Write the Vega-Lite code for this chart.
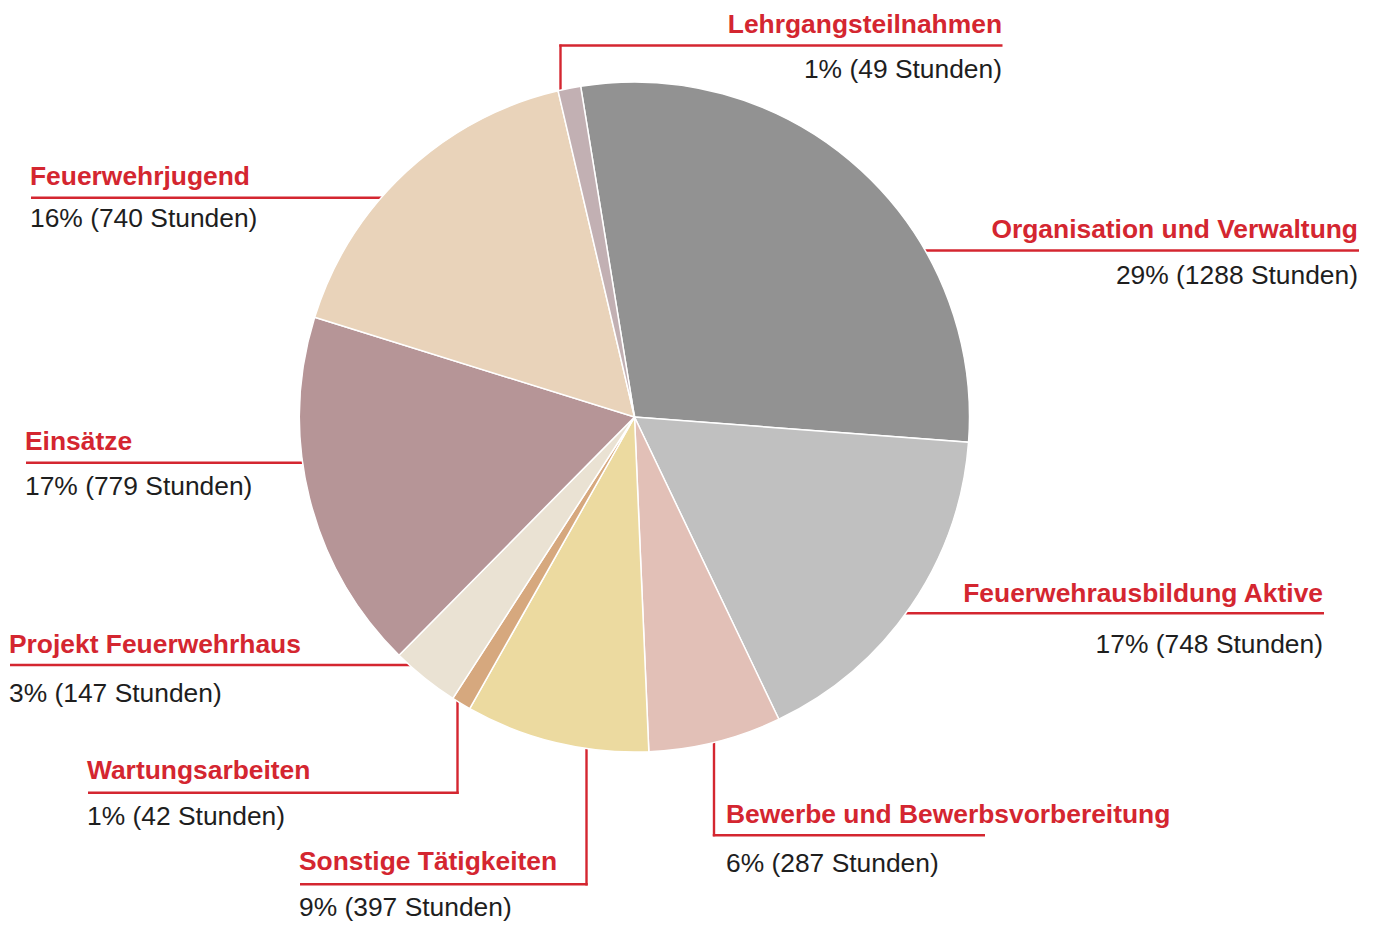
{
  "$schema": "https://vega.github.io/schema/vega-lite/v6.json",
  "width": 1378,
  "height": 925,
  "padding": 0,
  "autosize": {"type": "none"},
  "background": "white",
  "config": {"view": {"stroke": null}},
  "datasets": {
    "slices": [
      {"cat": "Organisation und Verwaltung", "hours": 1288, "pct": 29, "idx": 1},
      {"cat": "Feuerwehrausbildung Aktive", "hours": 748, "pct": 17, "idx": 2},
      {"cat": "Bewerbe und Bewerbsvorbereitung", "hours": 287, "pct": 6, "idx": 3},
      {"cat": "Sonstige Tätigkeiten", "hours": 397, "pct": 9, "idx": 4},
      {"cat": "Wartungsarbeiten", "hours": 42, "pct": 1, "idx": 5},
      {"cat": "Projekt Feuerwehrhaus", "hours": 147, "pct": 3, "idx": 6},
      {"cat": "Einsätze", "hours": 779, "pct": 17, "idx": 7},
      {"cat": "Feuerwehrjugend", "hours": 740, "pct": 16, "idx": 8},
      {"cat": "Lehrgangsteilnahmen", "hours": 49, "pct": 1, "idx": 9}
    ],
    "callouts": [
      {"cat": "Lehrgangsteilnahmen", "side": "right", "lx": 1002, "ly": 33, "sy": 78},
      {"cat": "Organisation und Verwaltung", "side": "right", "lx": 1358, "ly": 238, "sy": 284},
      {"cat": "Feuerwehrausbildung Aktive", "side": "right", "lx": 1323, "ly": 601.5, "sy": 653},
      {"cat": "Bewerbe und Bewerbsvorbereitung", "side": "left", "lx": 726, "ly": 823, "sy": 872},
      {"cat": "Sonstige Tätigkeiten", "side": "left", "lx": 299, "ly": 870, "sy": 916},
      {"cat": "Wartungsarbeiten", "side": "left", "lx": 87, "ly": 779, "sy": 825},
      {"cat": "Projekt Feuerwehrhaus", "side": "left", "lx": 9, "ly": 653, "sy": 702},
      {"cat": "Einsätze", "side": "left", "lx": 25, "ly": 450, "sy": 495},
      {"cat": "Feuerwehrjugend", "side": "left", "lx": 30, "ly": 185, "sy": 227}
    ],
    "leaders": [
      {"cat": "Lehrgangsteilnahmen", "ax": 560.5, "ay": 100, "bx": 560.5, "by": 44.5},
      {"cat": "Lehrgangsteilnahmen", "ax": 559.3, "ay": 45.5, "bx": 1002.5, "by": 45.5},
      {"cat": "Organisation und Verwaltung", "ax": 915, "ay": 250.5, "bx": 1359, "by": 250.5},
      {"cat": "Feuerwehrausbildung Aktive", "ax": 898, "ay": 613.3, "bx": 1324, "by": 613.3},
      {"cat": "Bewerbe und Bewerbsvorbereitung", "ax": 714, "ay": 735, "bx": 714, "by": 836.3},
      {"cat": "Bewerbe und Bewerbsvorbereitung", "ax": 712.8, "ay": 835.2, "bx": 985, "by": 835.2},
      {"cat": "Sonstige Tätigkeiten", "ax": 586.5, "ay": 742, "bx": 586.5, "by": 885.5},
      {"cat": "Sonstige Tätigkeiten", "ax": 300, "ay": 884.3, "bx": 587.7, "by": 884.3},
      {"cat": "Wartungsarbeiten", "ax": 457.5, "ay": 694, "bx": 457.5, "by": 793.9},
      {"cat": "Wartungsarbeiten", "ax": 88, "ay": 792.7, "bx": 458.7, "by": 792.7},
      {"cat": "Projekt Feuerwehrhaus", "ax": 10, "ay": 665, "bx": 418, "by": 665},
      {"cat": "Einsätze", "ax": 26, "ay": 462.7, "bx": 312, "by": 462.7},
      {"cat": "Feuerwehrjugend", "ax": 31, "ay": 197.7, "bx": 390, "by": 197.7}
    ]
  },
  "layer": [
    {
      "data": {"name": "leaders"},
      "mark": {"type": "rule", "color": "#d42630", "strokeWidth": 2.4},
      "encoding": {
        "x": {"field": "ax", "type": "quantitative", "scale": {"domain": [0, 1378], "nice": false, "zero": false}, "axis": null},
        "y": {"field": "ay", "type": "quantitative", "scale": {"domain": [0, 925], "nice": false, "zero": false, "reverse": true}, "axis": null},
        "x2": {"field": "bx"},
        "y2": {"field": "by"}
      }
    },
    {
      "data": {"name": "slices"},
      "mark": {"type": "arc", "outerRadius": 335, "stroke": "#ffffff", "strokeWidth": 1.5},
      "encoding": {
        "theta": {"field": "hours", "type": "quantitative", "stack": true, "scale": {"range": [-0.1614, 6.1218]}},
        "order": {"field": "idx", "type": "quantitative"},
        "color": {
          "field": "cat", "type": "nominal", "legend": null,
          "scale": {
            "domain": ["Organisation und Verwaltung", "Feuerwehrausbildung Aktive", "Bewerbe und Bewerbsvorbereitung", "Sonstige Tätigkeiten", "Wartungsarbeiten", "Projekt Feuerwehrhaus", "Einsätze", "Feuerwehrjugend", "Lehrgangsteilnahmen"],
            "range": ["#929292", "#c0c0c0", "#e2c0b7", "#ecdaa0", "#d6a87e", "#eae2d3", "#b69597", "#e9d3ba", "#c2b0b3"]
          }
        },
        "x": {"datum": 634.5, "type": "quantitative", "scale": {"domain": [0, 1378], "nice": false, "zero": false}, "axis": null},
        "y": {"datum": 417, "type": "quantitative", "scale": {"domain": [0, 925], "nice": false, "zero": false, "reverse": true}, "axis": null}
      }
    },
    {
      "data": {"name": "callouts"},
      "transform": [
        {"lookup": "cat", "from": {"data": {"name": "slices"}, "key": "cat", "fields": ["hours", "pct"]}},
        {"calculate": "datum.pct + '% (' + datum.hours + ' Stunden)'", "as": "sub"}
      ],
      "layer": [
        {
          "transform": [{"filter": "datum.side == 'right'"}],
          "mark": {"type": "text", "align": "right", "baseline": "alphabetic", "font": "Liberation Sans", "fontSize": 26.4, "fontWeight": "bold", "color": "#d42630"},
          "encoding": {
            "x": {"field": "lx", "type": "quantitative", "scale": {"domain": [0, 1378], "nice": false, "zero": false}, "axis": null},
            "y": {"field": "ly", "type": "quantitative", "scale": {"domain": [0, 925], "nice": false, "zero": false, "reverse": true}, "axis": null},
            "text": {"field": "cat"}
          }
        },
        {
          "transform": [{"filter": "datum.side == 'left'"}],
          "mark": {"type": "text", "align": "left", "baseline": "alphabetic", "font": "Liberation Sans", "fontSize": 26.4, "fontWeight": "bold", "color": "#d42630"},
          "encoding": {
            "x": {"field": "lx", "type": "quantitative", "scale": {"domain": [0, 1378], "nice": false, "zero": false}, "axis": null},
            "y": {"field": "ly", "type": "quantitative", "scale": {"domain": [0, 925], "nice": false, "zero": false, "reverse": true}, "axis": null},
            "text": {"field": "cat"}
          }
        },
        {
          "transform": [{"filter": "datum.side == 'right'"}],
          "mark": {"type": "text", "align": "right", "baseline": "alphabetic", "font": "Liberation Sans", "fontSize": 26.4, "color": "#1e1e1e"},
          "encoding": {
            "x": {"field": "lx", "type": "quantitative", "scale": {"domain": [0, 1378], "nice": false, "zero": false}, "axis": null},
            "y": {"field": "sy", "type": "quantitative", "scale": {"domain": [0, 925], "nice": false, "zero": false, "reverse": true}, "axis": null},
            "text": {"field": "sub"}
          }
        },
        {
          "transform": [{"filter": "datum.side == 'left'"}],
          "mark": {"type": "text", "align": "left", "baseline": "alphabetic", "font": "Liberation Sans", "fontSize": 26.4, "color": "#1e1e1e"},
          "encoding": {
            "x": {"field": "lx", "type": "quantitative", "scale": {"domain": [0, 1378], "nice": false, "zero": false}, "axis": null},
            "y": {"field": "sy", "type": "quantitative", "scale": {"domain": [0, 925], "nice": false, "zero": false, "reverse": true}, "axis": null},
            "text": {"field": "sub"}
          }
        }
      ]
    }
  ]
}
